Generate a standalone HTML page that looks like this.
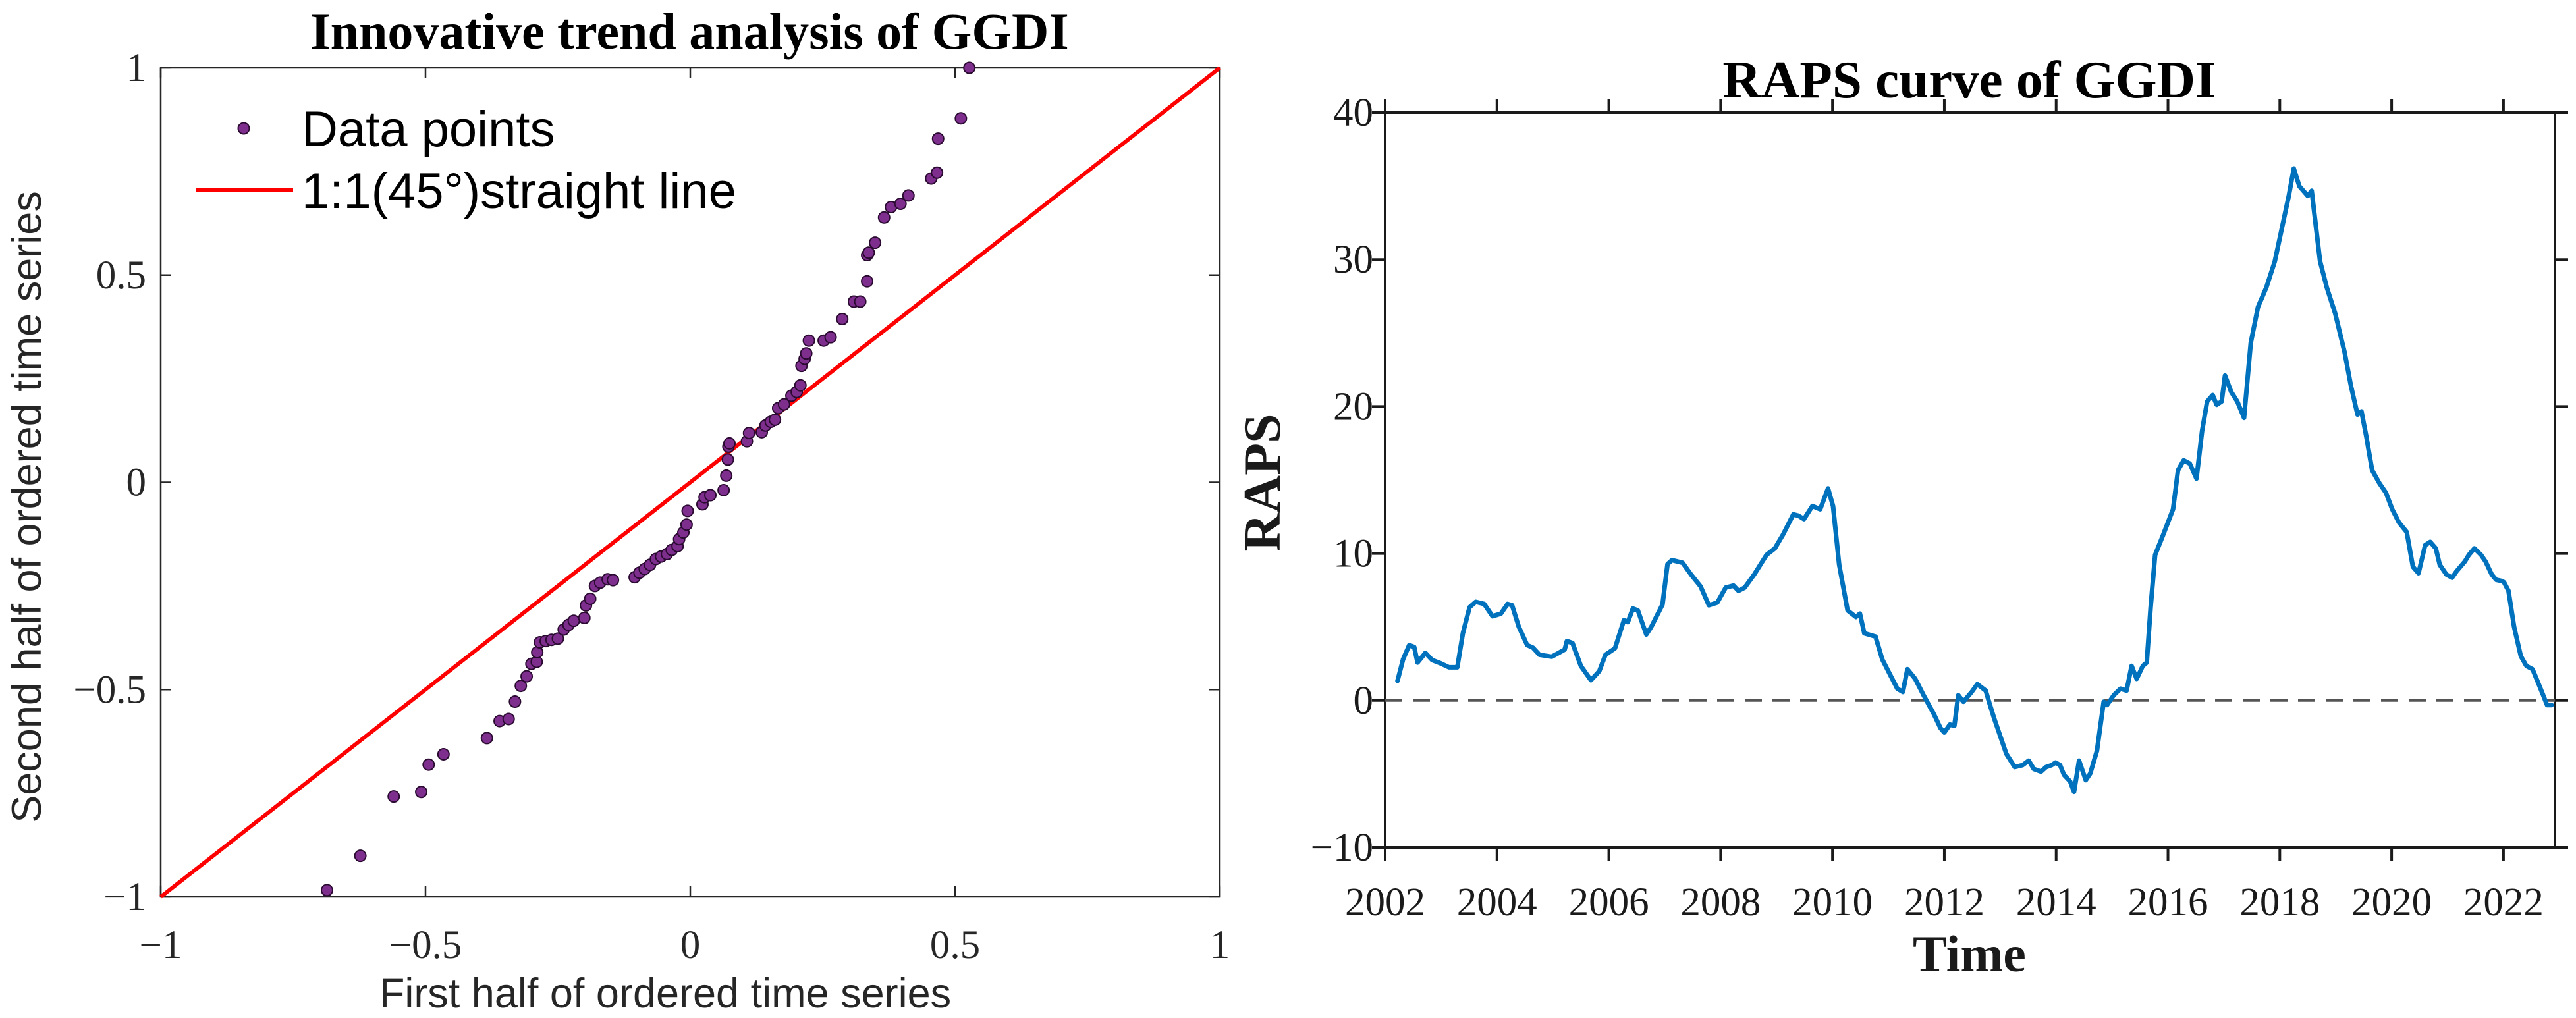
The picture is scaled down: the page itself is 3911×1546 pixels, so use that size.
<!DOCTYPE html>
<html><head><meta charset="utf-8"><style>
html,body{margin:0;padding:0;background:#fff;}
svg{display:block;}
</style></head><body>
<svg id="fig" width="3911" height="1546" viewBox="0 0 3911 1546" xmlns="http://www.w3.org/2000/svg">
<g id="left"></g>
<g id="right"></g>
</svg>
<script>
// ---------- Left chart data (ITA scatter) ----------
const itaFirstHalf = [-0.686,-0.623,-0.560,-0.508,-0.494,-0.466,-0.384,-0.360,-0.343,-0.331,-0.320,-0.309,-0.300,-0.290,-0.289,-0.284,-0.273,-0.262,-0.250,-0.239,-0.230,-0.220,-0.200,-0.197,-0.189,-0.180,-0.170,-0.156,-0.146,-0.105,-0.096,-0.086,-0.076,-0.065,-0.055,-0.044,-0.035,-0.024,-0.021,-0.013,-0.007,-0.005,0.023,0.027,0.038,0.063,0.068,0.071,0.072,0.074,0.107,0.111,0.135,0.142,0.152,0.160,0.166,0.177,0.191,0.201,0.208,0.210,0.216,0.219,0.224,0.252,0.265,0.287,0.309,0.321,0.334,0.334,0.337,0.349,0.366,0.379,0.397,0.412,0.455,0.466,0.468,0.511,0.527];
const itaSecondHalf = [-0.984,-0.901,-0.758,-0.747,-0.681,-0.656,-0.617,-0.576,-0.571,-0.529,-0.491,-0.468,-0.438,-0.433,-0.410,-0.386,-0.383,-0.380,-0.377,-0.355,-0.344,-0.334,-0.327,-0.297,-0.281,-0.250,-0.242,-0.234,-0.236,-0.229,-0.218,-0.209,-0.199,-0.185,-0.179,-0.173,-0.163,-0.154,-0.137,-0.121,-0.102,-0.069,-0.053,-0.036,-0.031,-0.019,0.016,0.055,0.086,0.094,0.099,0.119,0.121,0.137,0.146,0.151,0.179,0.188,0.209,0.218,0.234,0.281,0.298,0.311,0.342,0.342,0.350,0.394,0.436,0.436,0.485,0.548,0.554,0.578,0.639,0.664,0.672,0.692,0.733,0.747,0.829,0.878,1.0];
const itaTicks = [-1,-0.5,0,0.5,1];
const itaTickLabels = ["\u22121","\u22120.5","0","0.5","1"];

// ---------- Right chart data (RAPS) ----------
const rapsYears = [2002.22,2002.32,2002.43,2002.52,2002.58,2002.72,2002.84,2002.99,2003.14,2003.29,2003.39,2003.51,2003.62,2003.77,2003.92,2004.07,2004.19,2004.27,2004.39,2004.54,2004.64,2004.76,2004.98,2005.21,2005.25,2005.35,2005.50,2005.68,2005.83,2005.94,2006.11,2006.27,2006.34,2006.43,2006.52,2006.67,2006.76,2006.96,2007.05,2007.13,2007.32,2007.47,2007.64,2007.79,2007.94,2008.09,2008.23,2008.32,2008.43,2008.60,2008.82,2008.97,2009.12,2009.30,2009.39,2009.49,2009.64,2009.78,2009.92,2010.01,2010.12,2010.27,2010.42,2010.49,2010.57,2010.77,2010.89,2011.04,2011.16,2011.26,2011.34,2011.48,2011.63,2011.82,2011.93,2012.00,2012.10,2012.18,2012.25,2012.34,2012.49,2012.59,2012.74,2012.81,2012.89,2012.99,2013.11,2013.26,2013.40,2013.51,2013.60,2013.73,2013.82,2013.92,2013.99,2014.07,2014.14,2014.25,2014.32,2014.41,2014.53,2014.61,2014.73,2014.81,2014.85,2014.91,2015.03,2015.15,2015.26,2015.35,2015.44,2015.55,2015.62,2015.69,2015.77,2015.91,2016.09,2016.18,2016.28,2016.39,2016.51,2016.61,2016.70,2016.80,2016.87,2016.96,2017.02,2017.13,2017.24,2017.36,2017.48,2017.61,2017.76,2017.91,2018.06,2018.16,2018.25,2018.35,2018.50,2018.57,2018.72,2018.84,2018.99,2019.16,2019.27,2019.39,2019.46,2019.55,2019.65,2019.78,2019.90,2020.01,2020.13,2020.27,2020.38,2020.48,2020.60,2020.69,2020.79,2020.86,2020.98,2021.08,2021.16,2021.31,2021.38,2021.48,2021.60,2021.68,2021.79,2021.87,2021.97,2022.01,2022.09,2022.19,2022.31,2022.41,2022.52,2022.64,2022.71,2022.78,2022.86];
const rapsValues = [1.33,2.80,3.77,3.64,2.58,3.24,2.75,2.53,2.26,2.26,4.57,6.35,6.71,6.57,5.73,5.91,6.57,6.48,5.02,3.77,3.60,3.11,2.98,3.46,4.04,3.91,2.35,1.38,2.00,3.11,3.55,5.46,5.33,6.26,6.13,4.49,5.02,6.53,9.28,9.55,9.37,8.57,7.77,6.48,6.66,7.68,7.82,7.46,7.68,8.57,9.90,10.35,11.32,12.66,12.57,12.34,13.23,13.01,14.43,13.23,9.24,6.13,5.68,5.91,4.57,4.35,2.80,1.69,0.80,0.58,2.13,1.47,0.36,-0.98,-1.87,-2.18,-1.64,-1.73,0.36,-0.09,0.58,1.11,0.67,-0.22,-1.20,-2.31,-3.64,-4.53,-4.40,-4.09,-4.66,-4.84,-4.53,-4.40,-4.22,-4.40,-5.06,-5.51,-6.22,-4.09,-5.42,-4.97,-3.42,-1.20,-0.09,-0.31,0.36,0.80,0.67,2.35,1.47,2.35,2.58,6.35,9.90,11.23,13.01,15.67,16.34,16.12,15.10,18.34,20.34,20.78,20.12,20.34,22.11,21.0,20.34,19.23,24.33,26.78,28.11,29.88,32.55,34.33,36.19,34.99,34.33,34.68,29.88,28.11,26.33,23.67,21.45,19.45,19.67,17.90,15.67,14.79,14.12,13.01,12.12,11.46,9.10,8.66,10.57,10.79,10.35,9.24,8.57,8.35,8.79,9.46,9.90,10.35,9.90,9.46,8.57,8.21,8.13,8.04,7.46,5.02,3.02,2.35,2.13,1.02,0.36,-0.31,-0.31];
const rapsXTicks = [2002,2004,2006,2008,2010,2012,2014,2016,2018,2020,2022];
const rapsYTicks = [-10,0,10,20,30,40];
const rapsYTickLabels = ["\u221210","0","10","20","30","40"];

const NS = "http://www.w3.org/2000/svg";
function mk(parent, tag, attrs, text){
  const e = document.createElementNS(NS, tag);
  for (const k in attrs) e.setAttribute(k, attrs[k]);
  if (text !== undefined) e.textContent = text;
  parent.appendChild(e);
  return e;
}
const TIMES = '"Liberation Serif", serif';
const SANS = '"Liberation Sans", sans-serif';

// ---------- Left chart ----------
(function(){
  const g = document.getElementById('left');
  const L=244, R=1852, T=103, B=1362;
  const sx = v => L + (v + 1) / 2 * (R - L);
  const sy = v => B - (v + 1) / 2 * (B - T);

  const t = mk(g,'text',{x:1047,y:74,'text-anchor':'middle','font-family':TIMES,'font-weight':'bold','font-size':78,fill:'#000'},'Innovative trend analysis of GGDI');
  
  

  const box = mk(g,'rect',{x:L,y:T,width:R-L,height:B-T,fill:'none',stroke:'#262626','stroke-width':2.5});
  
  

  itaTicks.forEach((v,i)=>{
    const x = sx(v), y = sy(v);
    const a = mk(g,'line',{x1:x,y1:B,x2:x,y2:B-16,stroke:'#262626','stroke-width':2.5});
     
    const a2 = mk(g,'line',{x1:x,y1:T,x2:x,y2:T+16,stroke:'#262626','stroke-width':2.5});
     
    const b = mk(g,'line',{x1:L,y1:y,x2:L+16,y2:y,stroke:'#262626','stroke-width':2.5});
     
    const b2 = mk(g,'line',{x1:R,y1:y,x2:R-16,y2:y,stroke:'#262626','stroke-width':2.5});
     
    const xl = mk(g,'text',{x:x,y:1455,'text-anchor':'middle','font-family':TIMES,'font-size':61,fill:'#262626'},itaTickLabels[i]);
     
    const yl = mk(g,'text',{x:222,y:y+20,'text-anchor':'end','font-family':TIMES,'font-size':61,fill:'#262626'},itaTickLabels[i]);
     
  });

  const xt = mk(g,'text',{x:1010,y:1530,'text-anchor':'middle','font-family':SANS,'font-size':63,fill:'#262626'},'First half of ordered time series');
   
  const yt = mk(g,'text',{x:0,y:0,'text-anchor':'middle','font-family':SANS,'font-size':63,fill:'#262626',transform:'translate(62,770) rotate(-90)'},'Second half of ordered time series');
   

  const ln = mk(g,'line',{x1:sx(-1),y1:sy(-1),x2:sx(1),y2:sy(1),stroke:'#ff0000','stroke-width':6});
   

  itaFirstHalf.forEach((v,i)=>{
    const c = mk(g,'circle',{cx:sx(v),cy:sy(itaSecondHalf[i]),r:8.5,fill:'#7e2f8e',stroke:'#2a0a30','stroke-width':2});
    
    
  });

  const lg = mk(g,'g',{});
   
  const lm = mk(lg,'circle',{cx:370,cy:195,r:8.5,fill:'#7e2f8e',stroke:'#2a0a30','stroke-width':2});
   
  const lt1 = mk(lg,'text',{x:458,y:222,'font-family':SANS,'font-size':76,fill:'#000'},'Data points');
   
  const ll = mk(lg,'line',{x1:297,y1:288,x2:445,y2:288,stroke:'#ff0000','stroke-width':6});
   
  const lt2 = mk(lg,'text',{x:458,y:316,'font-family':SANS,'font-size':76,fill:'#000'},'1:1(45\u00B0)straight line');
   
})();

// ---------- Right chart ----------
(function(){
  const g = document.getElementById('right');
  const L=2103, R=3879, T=171, B=1287;
  const X0=2002, X1=2022.92, Y0=-10, Y1=40;
  const sx = v => L + (v - X0) / (X1 - X0) * (R - L);
  const sy = v => B - (v - Y0) / (Y1 - Y0) * (B - T);

  const t = mk(g,'text',{x:2990,y:148,'text-anchor':'middle','font-family':TIMES,'font-weight':'bold','font-size':81,fill:'#000'},'RAPS curve of GGDI');
   

  const box = mk(g,'rect',{x:L,y:T,width:R-L,height:B-T,fill:'none',stroke:'#1a1a1a','stroke-width':4});
   

  rapsXTicks.forEach(v=>{
    const x = sx(v);
    const a = mk(g,'line',{x1:x,y1:B,x2:x,y2:B+20,stroke:'#1a1a1a','stroke-width':4});
     
    const a2 = mk(g,'line',{x1:x,y1:T,x2:x,y2:T-20,stroke:'#1a1a1a','stroke-width':4});
     
    const lab = mk(g,'text',{x:x,y:1390,'text-anchor':'middle','font-family':TIMES,'font-size':61,fill:'#1a1a1a'},String(v));
     
  });
  rapsYTicks.forEach((v,i)=>{
    const y = sy(v);
    const a = mk(g,'line',{x1:L,y1:y,x2:L-20,y2:y,stroke:'#1a1a1a','stroke-width':4});
     
    const a2 = mk(g,'line',{x1:R,y1:y,x2:R+20,y2:y,stroke:'#1a1a1a','stroke-width':4});
     
    const lab = mk(g,'text',{x:2085,y:y+20,'text-anchor':'end','font-family':TIMES,'font-size':61,fill:'#1a1a1a'},rapsYTickLabels[i]);
     
  });

  const xt = mk(g,'text',{x:2990,y:1475,'text-anchor':'middle','font-family':TIMES,'font-weight':'bold','font-size':78,fill:'#1a1a1a'},'Time');
   
  const yt = mk(g,'text',{x:0,y:0,'text-anchor':'middle','font-family':TIMES,'font-weight':'bold','font-size':80,fill:'#1a1a1a',transform:'translate(1943,733) rotate(-90)'},'RAPS');
   

  const zl = mk(g,'line',{x1:L,y1:sy(0),x2:R,y2:sy(0),stroke:'#555','stroke-width':4,'stroke-dasharray':'26 16'});
   

  const d = rapsYears.map((yr,i)=>(i?'L':'M')+sx(yr).toFixed(1)+','+sy(rapsValues[i]).toFixed(1)).join(' ');
  const p = mk(g,'path',{d:d,fill:'none',stroke:'#0072bd','stroke-width':7,'stroke-linejoin':'round','stroke-linecap':'round'});
   
})();
</script>
</body></html>
